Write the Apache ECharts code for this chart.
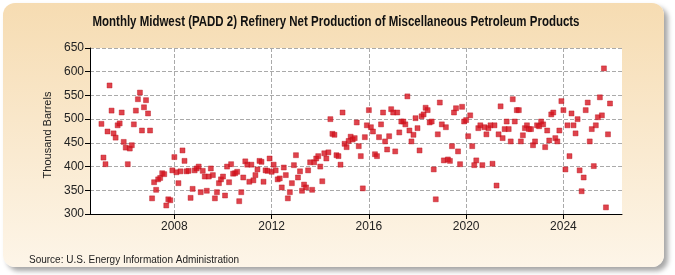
<!DOCTYPE html>
<html>
<head>
<meta charset="utf-8">
<script src="https://cdn.jsdelivr.net/npm/echarts@6/dist/echarts.min.js"></script>
<style>
  html, body { margin: 0; padding: 0; background: #fff; }
  #wrap { position: relative; width: 675px; height: 275px; }
  #panel {
    position: absolute; left: 3px; top: 3px; width: 661px; height: 264px;
    border-radius: 12px;
    background: linear-gradient(#f6dcb2, #fdf5e8);
    box-shadow: 4px 4px 5px rgba(0,0,0,0.35);
  }
  #main { position: absolute; left: 0; top: 0; width: 675px; height: 275px; }
</style>
</head>
<body>
<div id="wrap">
  <div id="panel"></div>
  <div id="main"></div>
</div>
<script>
// 月度数据 (Thousand Barrels), Jan..Dec
var startYear = 2005;
var y2005 = [490, 419, 405, 474, 571, 518, 470, 461, 487, 491, 514, 452];
var y2006 = [440, 405, 438, 445, 489, 518, 542, 556, 476, 525, 540, 512];
var y2007 = [476, 333, 367, 351, 373, 376, 386, 384, 318, 331, 329, 392];
var y2008 = [420, 388, 365, 390, 434, 412, 390, 391, 334, 353, 392, 396];
var y2009 = [400, 346, 391, 379, 349, 379, 396, 382, 333, 346, 365, 373];
var y2010 = [379, 339, 400, 367, 405, 385, 386, 389, 327, 346, 377, 411];
var y2011 = [404, 368, 404, 371, 382, 394, 412, 410, 368, 392, 391, 417];
var y2012 = [389, 404, 392, 373, 375, 356, 398, 382, 333, 346, 365, 403];
var y2013 = [424, 377, 390, 349, 362, 356, 392, 409, 351, 409, 417, 422];
var y2014 = [400, 369, 428, 417, 430, 500, 469, 467, 424, 422, 404, 514];
var y2015 = [448, 441, 454, 463, 457, 460, 493, 443, 422, 354, 462, 487];
var y2016 = [519, 483, 474, 426, 422, 462, 489, 514, 453, 436, 464, 521];
var y2017 = [514, 432, 514, 472, 495, 495, 489, 548, 476, 453, 467, 502];
var y2018 = [481, 434, 506, 510, 524, 519, 493, 495, 394, 331, 468, 535];
var y2019 = [489, 413, 483, 415, 412, 443, 514, 523, 432, 405, 526, 495];
var y2020 = [498, 464, 508, 443, 403, 413, 481, 487, 403, 483, 468, 481];
var y2021 = [487, 406, 487, 360, 468, 527, 460, 479, 495, 479, 453, 542];
var y2022 = [495, 519, 519, 453, 466, 481, 487, 479, 479, 445, 453, 487];
var y2023 = [485, 495, 489, 441, 476, 455, 510, 514, 460, 453, 476, 538];
var y2024 = [519, 394, 487, 422, 512, 487, 470, 500, 392, 348, 377, 519];
var y2025 = [535, 453, 479, 401, 487, 504, 546, 508, 607, 314, 468, 533];

var yearly = [y2005, y2006, y2007, y2008, y2009, y2010, y2011, y2012, y2013, y2014,
    y2015, y2016, y2017, y2018, y2019, y2020, y2021, y2022, y2023, y2024, y2025];

var xTicks = [2008, 2012, 2016, 2020, 2024];

var titleText = 'Monthly Midwest (PADD 2) Refinery Net Production of Miscellaneous Petroleum Products';

var points = [];
for (var i = 0; i < yearly.length; i++) {
    for (var m = 0; m < yearly[i].length; m++) {
        points.push([startYear + i + m / 12, yearly[i][m]]);
    }
}

var font = "'Liberation Sans', Arial, sans-serif";
var titleFont = "bold 14px 'Liberation Sans', Arial, sans-serif";

// 标题压窄 (原图是窄体字)
var ctx = document.createElement('canvas').getContext('2d');
ctx.font = titleFont;
var titleScale = 487 / ctx.measureText(titleText).width;

var oChart = echarts.init(document.getElementById('main'), null, { renderer: 'canvas' });

var chartopt = {
    backgroundColor: 'transparent',
    animation: false,
    graphic: [{
        type: 'text',
        x: 336,
        y: 22,
        scaleX: titleScale,
        style: {
            x: 0,
            y: 0,
            text: titleText,
            font: titleFont,
            fill: '#111',
            textAlign: 'center',
            textVerticalAlign: 'middle'
        }
    }, {
        type: 'text',
        left: 29,
        top: 255,
        style: {
            text: 'Source: U.S. Energy Information Administration',
            font: '10px ' + font,
            fill: '#222'
        }
    }],
    grid: {
        show: true,
        left: 90,
        right: 53,
        top: 48,
        bottom: 61,
        backgroundColor: '#fff',
        borderWidth: 0
    },
    xAxis: {
        type: 'value',
        min: 2004.53,
        max: 2026.41,
        axisLine: { show: true, lineStyle: { color: '#000', width: 1 } },
        axisTick: { show: true, length: 5, customValues: xTicks, lineStyle: { color: '#000' } },
        axisLabel: {
            customValues: xTicks,
            margin: 7,
            fontFamily: font,
            fontSize: 12,
            color: '#222',
            formatter: function (v) { return String(Math.round(v)); }
        },
        splitLine: { show: true, lineStyle: { color: '#aaa', type: [4, 2], width: 1 } }
    },
    yAxis: {
        type: 'value',
        min: 300,
        max: 650,
        interval: 50,
        name: 'Thousand Barrels',
        nameLocation: 'middle',
        nameGap: 34,
        nameTextStyle: { fontFamily: font, fontSize: 11, color: '#222', padding: [0, 0, 0, -8] },
        axisLine: { show: true, lineStyle: { color: '#000', width: 1 } },
        axisTick: { show: true, length: 5, lineStyle: { color: '#000' } },
        axisLabel: { fontFamily: font, fontSize: 12, color: '#222', margin: 6 },
        splitLine: { show: true, lineStyle: { color: '#aaa', type: [4, 2], width: 1 } }
    },
    series: [{
        name: 'Production',
        type: 'scatter',
        symbol: 'rect',
        symbolSize: 5,
        itemStyle: { color: '#d7141f', borderColor: '#b80e18', borderWidth: 0.5 },
        data: points
    }]
};

oChart.setOption(chartopt);
</script>
</body>
</html>
